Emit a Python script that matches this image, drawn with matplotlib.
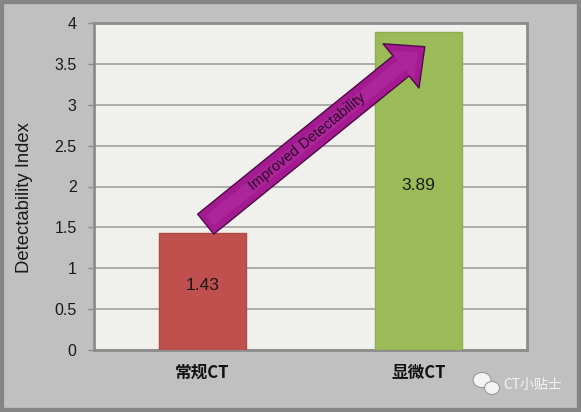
import matplotlib
matplotlib.use("Agg")
import matplotlib.pyplot as plt
from matplotlib.patches import FancyArrowPatch, Rectangle, Ellipse
import numpy as np

categories = ["常规CT", "显微CT"]
values = [1.43, 3.89]
bar_colors = ["#c0504d", "#9bbb59"]
edge_colors = ["#b04845", "#8fae50"]
value_labels = ["1.43", "3.89"]
yticks = [0, 0.5, 1, 1.5, 2, 2.5, 3, 3.5, 4]
ytick_labels = ["0", "0.5", "1", "1.5", "2", "2.5", "3", "3.5", "4"]
ylabel = "Detectability Index"
arrow_text = "Improved Detectability"
arrow_start = (0.016, 1.54)
arrow_end = (1.028, 3.71)
watermark = "CT小贴士"

W, H = 581, 412
fig = plt.figure(figsize=(W / 100, H / 100), dpi=100)
fig.patch.set_facecolor("#c0c0c0")

ax = fig.add_axes([94 / W, 1 - 350 / H, (527 - 94) / W, (350 - 23) / H])
ax.set_facecolor("#f0f1ec")

x = np.arange(len(categories))
ax.bar(x, values, width=0.40, color=bar_colors, edgecolor=edge_colors,
       linewidth=1, zorder=3)
ax.set_xlim(-0.5, 1.5)
ax.set_ylim(0, 4)

ax.set_yticks(yticks)
ax.set_yticklabels(ytick_labels, fontfamily="Liberation Sans", fontsize=11.5,
                   color="#1a1a1a")
ax.tick_params(axis="y", length=4.5, width=1, color="#8c8c8c", pad=8)
ax.set_xticks(x)
ax.set_xticklabels(categories, fontfamily=["Noto Sans CJK SC", "DejaVu Sans"],
                   fontsize=12, fontweight="bold", color="#111111")
ax.tick_params(axis="x", length=0, pad=10)

ax.grid(axis="y", color="#a0a0a0", linewidth=1.2, zorder=1)
ax.set_axisbelow(True)
for s in ax.spines.values():
    s.set_color("#8c8c8c")
    s.set_linewidth(2)

for xi, v, lab in zip(x, values, value_labels):
    ax.annotate(lab, (xi, v / 2), xytext=(0, 4), textcoords="offset points",
                ha="center", va="center", fontfamily="Liberation Sans",
                fontsize=12.5, color="#1a1a1a", zorder=5)

ax.set_ylabel(ylabel, fontfamily="Liberation Sans", fontsize=13.3,
              color="#1a1a1a")
ax.yaxis.set_label_coords(-0.16, 0.466)
ax.yaxis.label.set_va("center")

# Arrow
arr = FancyArrowPatch(arrow_start, arrow_end,
                      arrowstyle="simple,head_length=22,head_width=41,tail_width=18.5",
                      mutation_scale=1, shrinkA=0, shrinkB=0,
                      facecolor="#a31a91", edgecolor="#4e0a46",
                      linewidth=1.0, zorder=6)
ax.add_patch(arr)
arr_hi = FancyArrowPatch(arrow_start, arrow_end,
                         arrowstyle="simple,head_length=15,head_width=26,tail_width=9",
                         mutation_scale=1, shrinkA=4, shrinkB=6,
                         facecolor="#b62fa4", edgecolor="none",
                         linewidth=0, zorder=6.5, alpha=0.55)
ax.add_patch(arr_hi)

p0 = ax.transData.transform(arrow_start)
p1 = ax.transData.transform(arrow_end)
ang = np.degrees(np.arctan2(p1[1] - p0[1], p1[0] - p0[0]))
tx = arrow_start[0] + 0.465 * (arrow_end[0] - arrow_start[0])
ty = arrow_start[1] + 0.465 * (arrow_end[1] - arrow_start[1])
ax.text(tx, ty, arrow_text, rotation=ang, rotation_mode="anchor",
        ha="center", va="center", fontfamily="Liberation Sans", fontsize=10.5,
        color="#2a0a28", zorder=7)

# Watermark
fig.text(503 / W, 1 - 385 / H, watermark,
         fontfamily=["Noto Sans CJK SC", "DejaVu Sans"], fontsize=10,
         color="#f4f4f4", ha="left", va="center")
fig.patches.append(Ellipse((482 / W, 1 - 380 / H), 18 / W, 15 / H,
                           transform=fig.transFigure, facecolor="#f4f4f4",
                           edgecolor="#9a9a9a", linewidth=0.8))
fig.patches.append(Ellipse((492 / W, 1 - 388 / H), 15 / W, 13 / H,
                           transform=fig.transFigure, facecolor="#f4f4f4",
                           edgecolor="#9a9a9a", linewidth=0.8))

# Frame border
fig.patches.append(Rectangle((0, 0), 1, 1, transform=fig.transFigure,
                             fill=False, edgecolor="#858585", linewidth=6))

fig.savefig("out.png", dpi=100, facecolor=fig.get_facecolor())
